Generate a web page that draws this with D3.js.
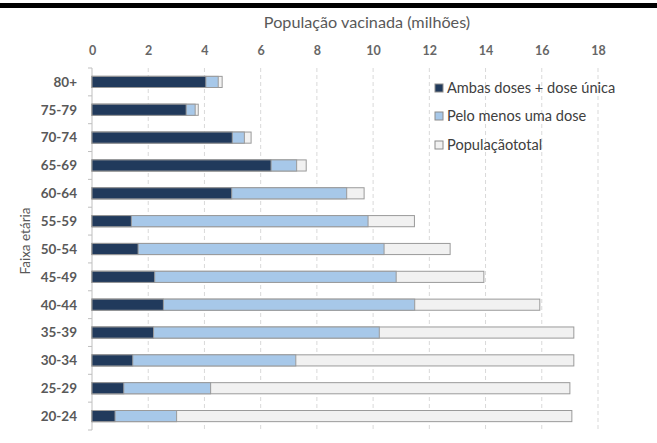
<!DOCTYPE html>
<html><head><meta charset="utf-8">
<script src="https://cdn.jsdelivr.net/npm/d3@7"></script>
<style>
html,body{margin:0;padding:0;background:#fff;}
svg{display:block;font-family:Lato,"Open Sans",sans-serif;}
</style></head>
<body><svg id="c" width="657" height="443"></svg>
<script>
const categories = ["80+","75-79","70-74","65-69","60-64","55-59","50-54","45-49","40-44","35-39","30-34","25-29","20-24"];
const fullyVaccinated = [4.05,3.35,4.99,6.37,4.97,1.40,1.64,2.23,2.54,2.19,1.45,1.13,0.82];
const atLeastOneDose = [4.49,3.67,5.42,7.28,9.06,9.82,10.39,10.82,11.48,10.22,7.25,4.22,3.01];
const totalPopulation = [4.63,3.78,5.66,7.62,9.68,11.47,12.74,13.94,15.93,17.14,17.14,17.00,17.07];
const xTicks = [0,2,4,6,8,10,12,14,16,18];
const seriesNames = ["Ambas doses + dose única","Pelo menos uma dose","População total"];
const seriesColors = ["#213a5c","#a7c8e9","#f1f1f1"];

const svg = d3.select("#c");
const mLeft = 92, mRight = 598, mTop = 68, mBottom = 430;
const x = d3.scaleLinear().domain([0,18]).range([mLeft,mRight]);
const y = d3.scaleBand().domain(categories).range([mTop,mBottom]).paddingInner(0.6).paddingOuter(0.3);

// top black band
svg.append("rect").attr("x",0).attr("y",3).attr("width",657).attr("height",5).attr("fill","#000");

// title
svg.append("text").attr("x",367).attr("y",28).attr("text-anchor","middle")
  .attr("font-size",16.2).attr("fill","#595959").text("População vacinada (milhões)");

// gridlines
svg.append("g").selectAll("line").data(xTicks.filter(d=>d>0)).join("line")
  .attr("x1",d=>x(d)).attr("x2",d=>x(d)).attr("y1",mTop).attr("y2",mBottom)
  .attr("stroke","#d9d9d9").attr("stroke-width",1).attr("stroke-dasharray","4,3");

// top axis labels
const xa = svg.append("g").attr("transform",`translate(0,${mTop})`)
  .call(d3.axisTop(x).tickValues(xTicks).tickSize(0).tickPadding(13));
xa.select(".domain").remove();
xa.selectAll("text").attr("font-size",12.5).attr("font-weight","bold").attr("fill","#666666")
  .attr("font-family","Lato,sans-serif");

// y axis
const boundaries = d3.range(categories.length+1).map(i => mTop + i*((mBottom-mTop)/categories.length));
svg.append("line").attr("x1",mLeft).attr("x2",mLeft).attr("y1",mTop).attr("y2",mBottom)
  .attr("stroke","#bfbfbf");
svg.append("g").selectAll("line").data(boundaries).join("line")
  .attr("x1",mLeft-4).attr("x2",mLeft).attr("y1",d=>d).attr("y2",d=>d).attr("stroke","#bfbfbf");
svg.append("g").selectAll("text").data(categories).join("text")
  .attr("x",77).attr("y",d=>y(d)+y.bandwidth()/2).attr("dy","0.36em")
  .attr("text-anchor","end").attr("font-size",13.5).attr("font-weight","bold").attr("fill","#595959")
  .text(d=>d);

// y title
svg.append("text").attr("transform","translate(30,241) rotate(-90)")
  .attr("text-anchor","middle").attr("font-size",13.5).attr("fill","#595959").text("Faixa etária");

// bars (overlapping, drawn from 0)
const series = [totalPopulation, atLeastOneDose, fullyVaccinated];
const colorsDraw = [seriesColors[2], seriesColors[1], seriesColors[0]];
series.forEach((vals,si)=>{
  svg.append("g").selectAll("rect").data(categories).join("rect")
    .attr("x",x(0)).attr("y",d=>y(d))
    .attr("width",(d,i)=>x(vals[i])-x(0)).attr("height",y.bandwidth())
    .attr("fill",colorsDraw[si]).attr("stroke","#9a9a9a").attr("stroke-width",1);
});

// legend
const lg = svg.append("g");
const legY = [88,116,145];
seriesNames.forEach((n,i)=>{
  lg.append("rect").attr("x",435).attr("y",legY[i]-4).attr("width",8).attr("height",8)
    .attr("fill",seriesColors[i]).attr("stroke","#8c8c8c").attr("stroke-width",1);
  lg.append("text").attr("x",447).attr("y",legY[i]).attr("dy","0.35em")
    .attr("font-size",14.6).attr("fill","#404040")
    .attr("word-spacing", i===2 ? "-4px" : "0").text(n);
});
</script></body></html>
